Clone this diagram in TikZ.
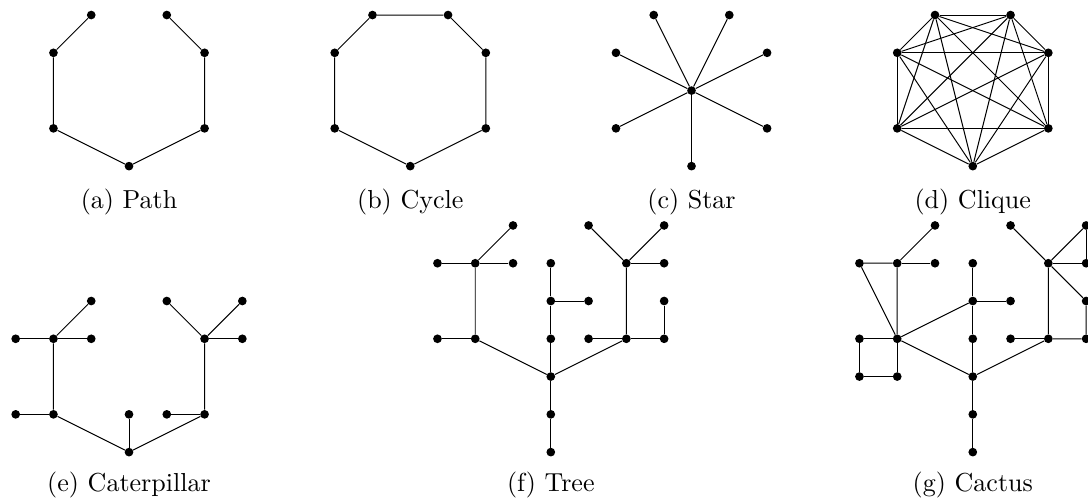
\documentclass[tikz,border=0pt]{standalone}
\usepackage{graphicx}
\newcommand{\capscale}[1]{\scalebox{1.96}{\fontsize{10}{12}\selectfont #1}}
\begin{document}
\begin{tikzpicture}[
  vtx/.style={circle, fill=black, inner sep=0pt, minimum size=0.23cm},
  gedge/.style={line width=0.75pt},
  subcap/.style={anchor=base, inner sep=0pt}
]
\useasboundingbox (0,0) rectangle (28.8,13.288);
\clip (0,0) rectangle (28.8,13.288);

% (a) Path
\begin{scope}[shift={(3.415,8.89)}]
  \node[vtx] (p0) at (0,0) {};
  \node[vtx] (p1) at (-2,1) {};
  \node[vtx] (p2) at (-2,3) {};
  \node[vtx] (p3) at (-1,4) {};
  \node[vtx] (p4) at (1,4) {};
  \node[vtx] (p5) at (2,3) {};
  \node[vtx] (p6) at (2,1) {};
  \draw[gedge] (p3) -- (p2) -- (p1) -- (p0) -- (p6) -- (p5) -- (p4);
  \node[subcap] (capa) at (0,-1.11) {\capscale{(a) Path}};
\end{scope}

% (b) Cycle
\begin{scope}[shift={(10.86,8.89)}]
  \node[vtx] (c0) at (0,0) {};
  \node[vtx] (c1) at (-2,1) {};
  \node[vtx] (c2) at (-2,3) {};
  \node[vtx] (c3) at (-1,4) {};
  \node[vtx] (c4) at (1,4) {};
  \node[vtx] (c5) at (2,3) {};
  \node[vtx] (c6) at (2,1) {};
  \draw[gedge] (c3) -- (c2) -- (c1) -- (c0) -- (c6) -- (c5) -- (c4) -- (c3);
  \node[subcap] (capb) at (0,-1.11) {\capscale{(b) Cycle}};
\end{scope}

% (c) Star
\begin{scope}[shift={(18.305,8.89)}]
  \node[vtx] (sc) at (0,2) {};
  \node[vtx] (s0) at (0,0) {};
  \node[vtx] (s1) at (-2,1) {};
  \node[vtx] (s2) at (-2,3) {};
  \node[vtx] (s3) at (-1,4) {};
  \node[vtx] (s4) at (1,4) {};
  \node[vtx] (s5) at (2,3) {};
  \node[vtx] (s6) at (2,1) {};
  \foreach \i in {0,...,6} \draw[gedge] (sc) -- (s\i);
  \node[subcap] (capc) at (0,-1.11) {\capscale{(c) Star}};
\end{scope}

% (d) Clique
\begin{scope}[shift={(25.75,8.89)}]
  \node[vtx] (k0) at (0,0) {};
  \node[vtx] (k1) at (-2,1) {};
  \node[vtx] (k2) at (-2,3) {};
  \node[vtx] (k3) at (-1,4) {};
  \node[vtx] (k4) at (1,4) {};
  \node[vtx] (k5) at (2,3) {};
  \node[vtx] (k6) at (2,1) {};
  \foreach \i in {0,...,5} {
    \pgfmathtruncatemacro\nxt{\i+1}
    \foreach \j in {\nxt,...,6} \draw[gedge] (k\i) -- (k\j);
  }
  \node[subcap] (capd) at (0,-1.11) {\capscale{(d) Clique}};
\end{scope}

% (e) Caterpillar
\begin{scope}[shift={(3.415,1.32)}]
  \node[vtx] (e0) at (0,0) {};
  \node[vtx] (e1) at (0,1) {};
  \node[vtx] (eLa) at (-2,1) {};
  \node[vtx] (eLa1) at (-3,1) {};
  \node[vtx] (eLb) at (-2,3) {};
  \node[vtx] (eLb1) at (-3,3) {};
  \node[vtx] (eLb2) at (-1,3) {};
  \node[vtx] (eLb3) at (-1,4) {};
  \node[vtx] (eRa) at (2,1) {};
  \node[vtx] (eRa1) at (1,1) {};
  \node[vtx] (eRb) at (2,3) {};
  \node[vtx] (eRb1) at (3,3) {};
  \node[vtx] (eRb2) at (1,4) {};
  \node[vtx] (eRb3) at (3,4) {};
  \draw[gedge] (e0) -- (e1);
  \draw[gedge] (e0) -- (eLa) -- (eLb);
  \draw[gedge] (eLa) -- (eLa1);
  \draw[gedge] (eLb) -- (eLb1);
  \draw[gedge] (eLb) -- (eLb2);
  \draw[gedge] (eLb) -- (eLb3);
  \draw[gedge] (e0) -- (eRa) -- (eRb);
  \draw[gedge] (eRa) -- (eRa1);
  \draw[gedge] (eRb) -- (eRb1);
  \draw[gedge] (eRb) -- (eRb2);
  \draw[gedge] (eRb) -- (eRb3);
  \node[subcap] (cape) at (0,-1.055) {\capscale{(e) Caterpillar}};
\end{scope}

% (f) Tree
\begin{scope}[shift={(14.58,1.32)}]
  \node[vtx] (t0) at (0,0) {};
  \node[vtx] (t1) at (0,1) {};
  \node[vtx] (t2) at (0,2) {};
  \node[vtx] (t3) at (0,3) {};
  \node[vtx] (t4) at (0,4) {};
  \node[vtx] (t5) at (0,5) {};
  \node[vtx] (t4r) at (1,4) {};
  \node[vtx] (tLa) at (-2,3) {};
  \node[vtx] (tLa1) at (-3,3) {};
  \node[vtx] (tLb) at (-2,5) {};
  \node[vtx] (tLb1) at (-3,5) {};
  \node[vtx] (tLb2) at (-1,5) {};
  \node[vtx] (tLb3) at (-1,6) {};
  \node[vtx] (tRa) at (2,3) {};
  \node[vtx] (tRa1) at (1,3) {};
  \node[vtx] (tRa2) at (3,3) {};
  \node[vtx] (tRa3) at (3,4) {};
  \node[vtx] (tRb) at (2,5) {};
  \node[vtx] (tRb1) at (3,5) {};
  \node[vtx] (tRb2) at (1,6) {};
  \node[vtx] (tRb3) at (3,6) {};
  \draw[gedge] (t0) -- (t1) -- (t2) -- (t3) -- (t4) -- (t5);
  \draw[gedge] (t4) -- (t4r);
  \draw[gedge] (t2) -- (tLa) -- (tLb);
  \draw[gedge] (tLa) -- (tLa1);
  \draw[gedge] (tLb) -- (tLb1);
  \draw[gedge] (tLb) -- (tLb2);
  \draw[gedge] (tLb) -- (tLb3);
  \draw[gedge] (t2) -- (tRa) -- (tRb);
  \draw[gedge] (tRa) -- (tRa1);
  \draw[gedge] (tRa) -- (tRa2) -- (tRa3);
  \draw[gedge] (tRb) -- (tRb1);
  \draw[gedge] (tRb) -- (tRb2);
  \draw[gedge] (tRb) -- (tRb3);
  \node[subcap] (capf) at (0,-1.055) {\capscale{(f) Tree}};
\end{scope}

% (g) Cactus
\begin{scope}[shift={(25.75,1.32)}]
  \node[vtx] (g0) at (0,0) {};
  \node[vtx] (g1) at (0,1) {};
  \node[vtx] (g2) at (0,2) {};
  \node[vtx] (g3) at (0,3) {};
  \node[vtx] (g4) at (0,4) {};
  \node[vtx] (g5) at (0,5) {};
  \node[vtx] (g4r) at (1,4) {};
  \node[vtx] (gLa) at (-2,3) {};
  \node[vtx] (gLa1) at (-3,3) {};
  \node[vtx] (gLa2) at (-3,2) {};
  \node[vtx] (gLa3) at (-2,2) {};
  \node[vtx] (gLb) at (-2,5) {};
  \node[vtx] (gLb1) at (-3,5) {};
  \node[vtx] (gLb2) at (-1,5) {};
  \node[vtx] (gLb3) at (-1,6) {};
  \node[vtx] (gRa) at (2,3) {};
  \node[vtx] (gRa1) at (1,3) {};
  \node[vtx] (gRa2) at (3,3) {};
  \node[vtx] (gRa3) at (3,4) {};
  \node[vtx] (gRb) at (2,5) {};
  \node[vtx] (gRb1) at (3,5) {};
  \node[vtx] (gRb2) at (1,6) {};
  \node[vtx] (gRb3) at (3,6) {};
  \draw[gedge] (g0) -- (g1) -- (g2) -- (g3) -- (g4) -- (g5);
  \draw[gedge] (g4) -- (g4r);
  \draw[gedge] (g2) -- (gLa) -- (gLb);
  \draw[gedge] (gLa) -- (g4);
  \draw[gedge] (gLa) -- (gLa1) -- (gLa2) -- (gLa3) -- (gLa);
  \draw[gedge] (gLb) -- (gLb1) -- (gLa);
  \draw[gedge] (gLb) -- (gLb2);
  \draw[gedge] (gLb) -- (gLb3);
  \draw[gedge] (g2) -- (gRa) -- (gRb);
  \draw[gedge] (gRa) -- (gRa1);
  \draw[gedge] (gRa) -- (gRa2) -- (gRa3) -- (gRb);
  \draw[gedge] (gRb) -- (gRb1) -- (gRb3);
  \draw[gedge] (gRb) -- (gRb2);
  \draw[gedge] (gRb) -- (gRb3);
  \node[subcap] (capg) at (0,-1.055) {\capscale{(g) Cactus}};
\end{scope}
\end{tikzpicture}
\end{document}
